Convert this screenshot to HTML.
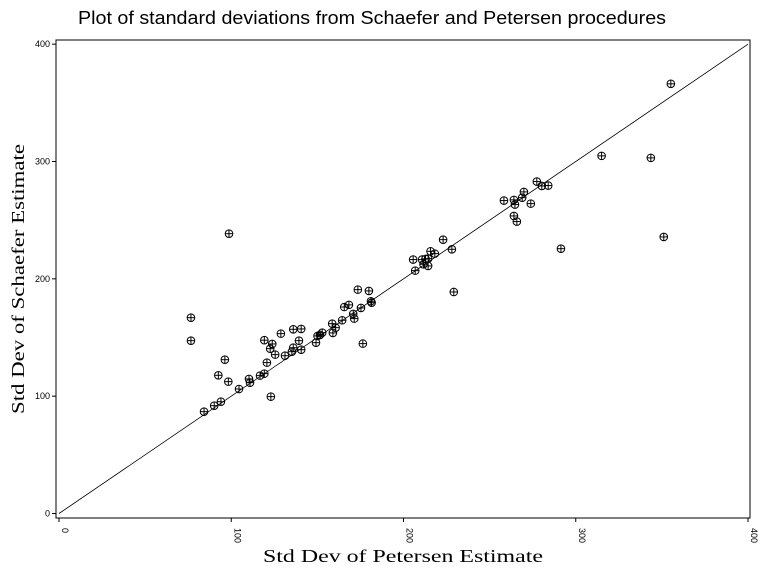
<!DOCTYPE html>
<html><head><meta charset="utf-8"><style>body{margin:0;background:#fff}svg{display:block}</style></head>
<body>
<svg id="chart" width="760" height="571" xmlns="http://www.w3.org/2000/svg">
<text x="78" y="24" font-family="Liberation Sans, sans-serif" font-size="18" textLength="588" lengthAdjust="spacingAndGlyphs">Plot of standard deviations from Schaefer and Petersen procedures</text>
<rect x="56" y="40" width="694" height="478" fill="none" stroke="#000" stroke-width="1"/>
<text x="403" y="562" text-anchor="middle" font-family="Liberation Serif, serif" font-size="18" textLength="280" lengthAdjust="spacingAndGlyphs">Std Dev of Petersen Estimate</text>
<text transform="translate(24,279) rotate(-90)" text-anchor="middle" font-family="Liberation Serif, serif" font-size="18" textLength="270" lengthAdjust="spacingAndGlyphs">Std Dev of Schaefer Estimate</text>
<g id="axes"></g><g id="marks"></g>
</svg>
<script>
const ticks=[0,100,200,300,400];
const petersen=[98.7,76.6,76.6,96.3,92.5,98.3,84.2,90.1,94,104.5,110.3,110.9,116.7,119.2,120.7,123,119.2,123.8,122.6,125.5,128.8,131.2,136,140.6,139.3,136,135.2,140.6,149.2,150.1,151.5,152.8,158.6,160.6,159,164.4,165.6,168.3,170.8,171.4,175.3,173.5,179.9,181.1,181.5,176.4,223,228.1,205.6,206.8,210.8,211.6,212.8,214.3,214.3,215.7,218.2,229.2,258.3,264.1,264.7,264.1,265.8,269.9,268.9,273.9,277.4,280.3,284,291.4,315,343.6,351.1,355.2];
const schaefer=[238.5,166.9,147.3,131.1,117.8,112.4,86.8,91.9,95.3,106.1,114.7,111.5,117.5,119.2,128.6,99.6,147.7,144.5,140.5,135.4,153.3,134.5,157,157.3,147.3,141.3,137.9,139.6,145.6,151.3,152.2,154.1,161.8,158.4,153.9,164.7,176,177.8,170.1,166.1,175.2,190.8,189.7,180.9,179.7,144.8,233.4,225.2,216.4,207,216.4,212.4,217,217.2,211,223.5,221.5,188.8,266.7,267.3,263.3,253.6,248.8,274.1,269.2,264.1,282.9,279.2,279.5,225.7,304.8,303.1,235.7,366.2];
const X=v=>59+v*1.7225, Y=v=>513.5-v*1.1733;
const NS='http://www.w3.org/2000/svg';
const ax=document.getElementById('axes'), mk=document.getElementById('marks');
function mkEl(t,a,p){const e=document.createElementNS(NS,t);for(const k in a)e.setAttribute(k,a[k]);p.appendChild(e);return e;}
ticks.forEach(t=>{
  const l1=mkEl('line',{x1:X(t),x2:X(t),y1:518,y2:522,stroke:'#000'},ax);
  
  
  const tx=mkEl('text',{transform:`translate(${X(t)+3},${528}) rotate(90)`,'font-family':'Liberation Sans, sans-serif','font-size':'9'},ax);
  tx.textContent=t;
  
  
  const l2=mkEl('line',{x1:52,x2:56,y1:Y(t),y2:Y(t),stroke:'#000'},ax);
  
  
  const ty=mkEl('text',{x:50,y:Y(t)+3,'text-anchor':'end','font-family':'Liberation Sans, sans-serif','font-size':'9'},ax);
  ty.textContent=t;
  
  
});
const diag=mkEl('line',{x1:X(0),y1:Y(0),x2:X(400),y2:Y(400),stroke:'#000','stroke-width':'0.8'},mk);


petersen.forEach((p,i)=>{
  const x=X(p),y=Y(schaefer[i]);
  const g=mkEl('g',{fill:'none',stroke:'#000','stroke-width':'1'},mk);
  
  
  mkEl('circle',{cx:x,cy:y,r:3.8},g);
  mkEl('line',{x1:x-3.8,x2:x+3.8,y1:y,y2:y},g);
  mkEl('line',{x1:x,x2:x,y1:y-3.8,y2:y+3.8},g);
});
</script>
</body></html>
